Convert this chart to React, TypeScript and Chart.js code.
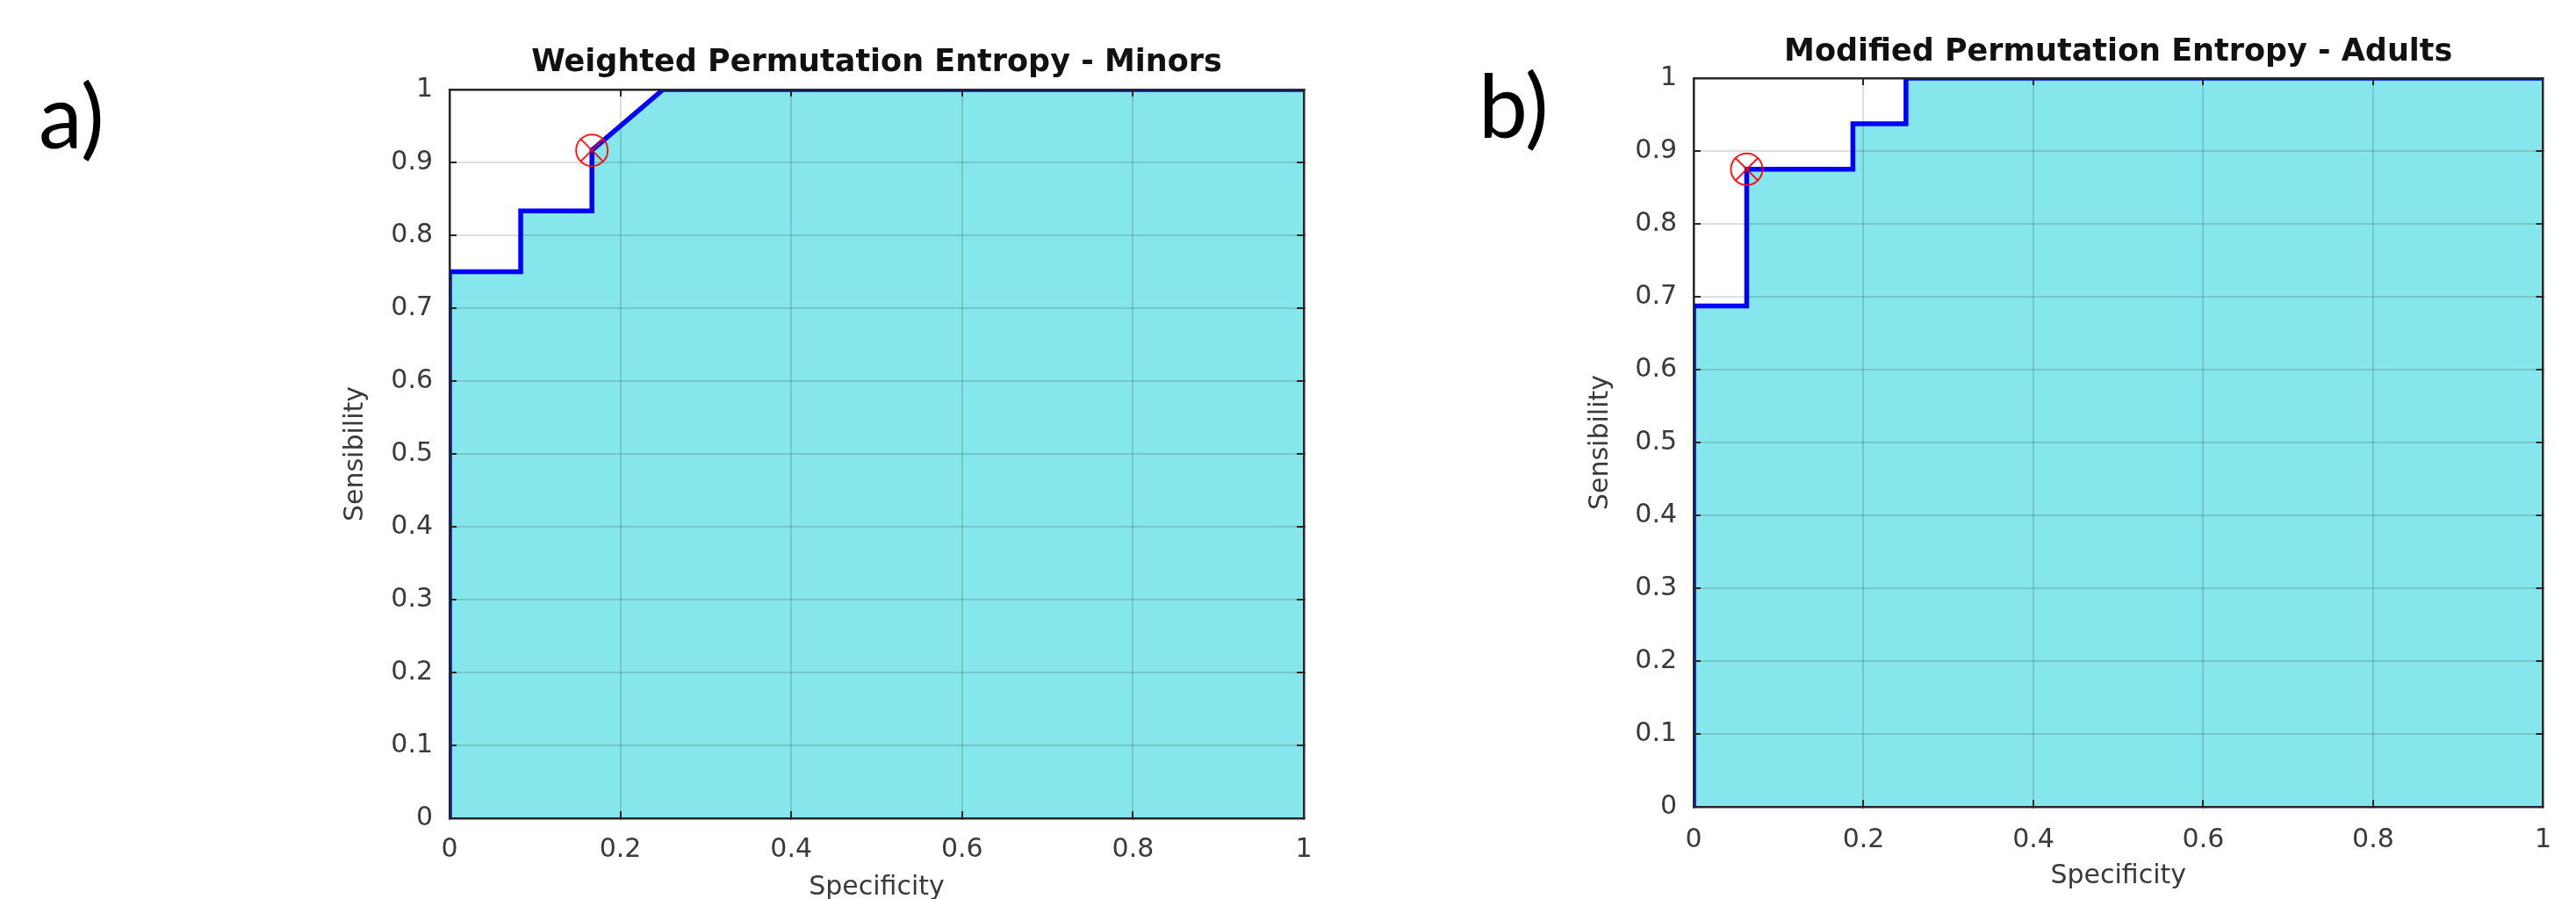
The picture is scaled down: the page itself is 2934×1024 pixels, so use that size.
import React, { useEffect, useRef } from "react";
import { Chart, registerables } from "chart.js";

Chart.register(...registerables);

// ---------- data ----------
const xTickValues = [0, 0.2, 0.4, 0.6, 0.8, 1];
const xTickLabels = ["0", "0.2", "0.4", "0.6", "0.8", "1"];
const yTickValues = [0, 0.1, 0.2, 0.3, 0.4, 0.5, 0.6, 0.7, 0.8, 0.9, 1];
const yTickLabels = ["0", "0.1", "0.2", "0.3", "0.4", "0.5", "0.6", "0.7", "0.8", "0.9", "1"];

const titleA = "Weighted Permutation Entropy - Minors";
const titleB = "Modified Permutation Entropy - Adults";
const xAxisLabel = "Specificity";
const yAxisLabel = "Sensibility";
const panelLabelA = "a)";
const panelLabelB = "b)";

const specificityA = [0, 0, 0.0833, 0.0833, 0.1667, 0.1667, 0.25, 1];
const sensibilityA = [0, 0.75, 0.75, 0.8333, 0.8333, 0.9167, 1, 1];
const optimalSpecA = [0.1667];
const optimalSensA = [0.9167];

const specificityB = [0, 0, 0.0625, 0.0625, 0.1875, 0.1875, 0.25, 0.25, 1];
const sensibilityB = [0, 0.6875, 0.6875, 0.875, 0.875, 0.9375, 0.9375, 1, 1];
const optimalSpecB = [0.0625];
const optimalSensB = [0.875];

// ---------- styling ----------
const FONT = "'DejaVu Sans', 'Liberation Sans', sans-serif";
const AXIS_COLOR = "#262626";
const TEXT_COLOR = "#3a3a3a";
const GRID_COLOR = "rgba(0,0,0,0.13)";
const FILL_COLOR = "rgb(133,230,235)";
const LINE_COLOR = "#0000ff";
const MARK_COLOR = "rgba(255,0,0,0.9)";

type Layout = {
  left: number;
  width: number;
  height: number;
  yAxisWidth: number;
  xAxisHeight: number;
  padRight: number;
  titlePadTop: number;
  titlePadBottom: number;
  xTickPad: number;
  yTickPad: number;
  xTitlePadBottom: number;
  yTitlePadTop: number;
};

const layoutA: Layout = {
  left: 300,
  width: 1230,
  height: 1060,
  yAxisWidth: 212,
  xAxisHeight: 128,
  padRight: 45,
  titlePadTop: 51,
  titlePadBottom: 9,
  xTickPad: 26,
  yTickPad: 27,
  xTitlePadBottom: 31,
  yTitlePadTop: 87,
};

const layoutB: Layout = {
  left: 1700,
  width: 1234,
  height: 1060,
  yAxisWidth: 229,
  xAxisHeight: 141,
  padRight: 35,
  titlePadTop: 39,
  titlePadBottom: 8,
  xTickPad: 28,
  yTickPad: 27,
  xTitlePadBottom: 44,
  yTitlePadTop: 105,
};

function buildConfig(
  spec: number[],
  sens: number[],
  optX: number[],
  optY: number[],
  title: string,
  L: Layout
): any {
  const rocPoints = spec.map((x, i) => ({ x, y: sens[i] }));
  const optPoints = optX.map((x, i) => ({ x, y: optY[i] }));
  const tickFont = { family: FONT, size: 30 };
  const gridBase = {
    color: GRID_COLOR,
    lineWidth: 2,
    tickLength: -8,
    tickColor: AXIS_COLOR,
    tickWidth: 2,
    z: 1,
  };
  const border = { display: true, color: AXIS_COLOR, width: 2.5, z: 2 };
  const setXTicks = (s: any) => {
    s.ticks = xTickValues.map((v) => ({ value: v }));
  };
  const setYTicks = (s: any) => {
    s.ticks = yTickValues.map((v) => ({ value: v }));
  };
  return {
    type: "scatter",
    data: {
      datasets: [
        {
          data: optPoints,
          showLine: false,
          pointStyle: "crossRot",
          pointRadius: 18,
          pointBorderColor: MARK_COLOR,
          pointBorderWidth: 2,
          pointBackgroundColor: "rgba(0,0,0,0)",
        },
        {
          data: optPoints,
          showLine: false,
          pointStyle: "circle",
          pointRadius: 18,
          pointBorderColor: MARK_COLOR,
          pointBorderWidth: 2,
          pointBackgroundColor: "rgba(0,0,0,0)",
        },
        {
          data: rocPoints,
          showLine: true,
          borderColor: LINE_COLOR,
          borderWidth: 5.5,
          pointRadius: 0,
          fill: "origin",
          backgroundColor: FILL_COLOR,
          tension: 0,
        },
      ],
    },
    options: {
      responsive: false,
      animation: false,
      devicePixelRatio: 1,
      events: [],
      layout: { padding: { left: 0, top: 0, bottom: 0, right: L.padRight } },
      plugins: {
        legend: { display: false },
        tooltip: { enabled: false },
        title: {
          display: true,
          text: title,
          fullSize: false,
          color: "#111111",
          font: { family: FONT, size: 35, weight: "bold" },
          padding: { top: L.titlePadTop, bottom: L.titlePadBottom },
        },
      },
      scales: {
        x: {
          type: "linear",
          position: "bottom",
          min: 0,
          max: 1,
          afterBuildTicks: setXTicks,
          afterFit: (s: any) => {
            s.height = L.xAxisHeight;
          },
          ticks: {
            autoSkip: false,
            maxRotation: 0,
            padding: L.xTickPad,
            color: TEXT_COLOR,
            font: tickFont,
            z: 2,
            callback: (_v: any, i: number) => xTickLabels[i],
          },
          grid: { ...gridBase },
          border,
          title: {
            display: true,
            text: xAxisLabel,
            color: TEXT_COLOR,
            font: { family: FONT, size: 30 },
            padding: { top: 0, bottom: L.xTitlePadBottom },
          },
        },
        x2: {
          type: "linear",
          position: "top",
          min: 0,
          max: 1,
          afterBuildTicks: setXTicks,
          afterFit: (s: any) => {
            s.height = 0;
          },
          ticks: { display: false },
          grid: { ...gridBase, drawOnChartArea: false },
          border,
        },
        y: {
          type: "linear",
          position: "left",
          min: 0,
          max: 1,
          afterBuildTicks: setYTicks,
          afterFit: (s: any) => {
            s.width = L.yAxisWidth;
          },
          ticks: {
            autoSkip: false,
            padding: L.yTickPad,
            color: TEXT_COLOR,
            font: tickFont,
            z: 2,
            callback: (_v: any, i: number) => yTickLabels[i],
          },
          grid: { ...gridBase },
          border,
          title: {
            display: true,
            text: yAxisLabel,
            color: TEXT_COLOR,
            font: { family: FONT, size: 30 },
            padding: { top: L.yTitlePadTop, bottom: 0 },
          },
        },
        y2: {
          type: "linear",
          position: "right",
          min: 0,
          max: 1,
          afterBuildTicks: setYTicks,
          afterFit: (s: any) => {
            s.width = 0;
          },
          ticks: { display: false },
          grid: { ...gridBase, drawOnChartArea: false },
          border,
        },
      },
    },
  };
}

function RocChart(props: {
  spec: number[];
  sens: number[];
  optX: number[];
  optY: number[];
  title: string;
  layout: Layout;
}) {
  const ref = useRef<HTMLCanvasElement | null>(null);
  useEffect(() => {
    if (!ref.current) return;
    const chart = new Chart(
      ref.current,
      buildConfig(props.spec, props.sens, props.optX, props.optY, props.title, props.layout)
    );
    return () => chart.destroy();
  }, []);
  const L = props.layout;
  return (
    <canvas
      ref={ref}
      width={L.width}
      height={L.height}
      style={{
        position: "absolute",
        left: L.left,
        top: 0,
        width: L.width,
        height: L.height,
      }}
    />
  );
}

const panelStyle: React.CSSProperties = {
  position: "absolute",
  fontFamily: "Lato, 'Open Sans', sans-serif",
  fontSize: 100,
  lineHeight: 1,
  color: "#000",
  whiteSpace: "nowrap",
};

export default function App() {
  return (
    <div
      style={{
        position: "absolute",
        left: 0,
        top: 0,
        width: 2934,
        height: 1024,
        overflow: "hidden",
        background: "#ffffff",
      }}
    >
      <div style={{ ...panelStyle, left: 44, top: 80 }}>{panelLabelA}</div>
      <div style={{ ...panelStyle, left: 1684, top: 68 }}>{panelLabelB}</div>
      <RocChart
        spec={specificityA}
        sens={sensibilityA}
        optX={optimalSpecA}
        optY={optimalSensA}
        title={titleA}
        layout={layoutA}
      />
      <RocChart
        spec={specificityB}
        sens={sensibilityB}
        optX={optimalSpecB}
        optY={optimalSensB}
        title={titleB}
        layout={layoutB}
      />
    </div>
  );
}
